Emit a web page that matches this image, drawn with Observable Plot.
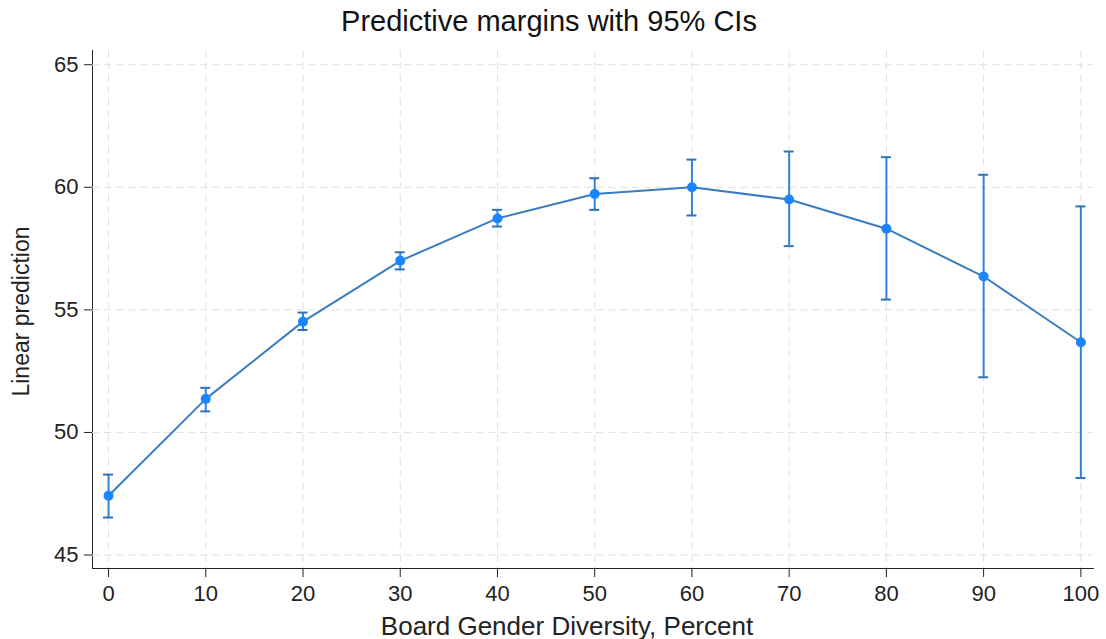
<!DOCTYPE html>
<html><head><meta charset="utf-8">
<script src="https://cdn.jsdelivr.net/npm/d3@7"></script>
<script src="https://cdn.jsdelivr.net/npm/@observablehq/plot@0.6"></script>
<style>
body{margin:0;background:#fff;font-family:"Liberation Sans",Arial,sans-serif;}
#title{height:46px;box-sizing:border-box;padding-top:6px;text-align:center;font-size:29px;line-height:30px;color:#111;padding-right:8px;}
</style></head><body>
<div id="title">Predictive margins with 95% CIs</div>
<div id="chart"></div>
<script>
const diversity = [0, 10, 20, 30, 40, 50, 60, 70, 80, 90, 100];
const margin    = [47.42, 51.37, 54.52, 57.00, 58.73, 59.73, 60.00, 59.50, 58.31, 56.36, 53.68];
const ciLow     = [46.53, 50.86, 54.18, 56.65, 58.40, 59.08, 58.85, 57.60, 55.42, 52.25, 48.14];
const ciHigh    = [48.28, 51.82, 54.89, 57.35, 59.08, 60.37, 61.13, 61.46, 61.23, 60.51, 59.22];
const xTicks = [0, 10, 20, 30, 40, 50, 60, 70, 80, 90, 100];
const yTicks = [45, 50, 55, 60, 65];
const xLabel = "Board Gender Diversity, Percent";
const yLabel = "Linear prediction";

const rows = diversity.map((x, i) => ({x, m: margin[i], lo: ciLow[i], hi: ciHigh[i]}));
const blue = "#1a85ff";
const lineBlue = "#3a7cc0";
const barBlue = "#2d84e0";

const chart = Plot.plot({
  width: 1106, height: 593,
  marginTop: 4, marginBottom: 71, marginLeft: 92, marginRight: 13,
  style: {fontFamily: "'Liberation Sans', Arial, sans-serif", fontSize: "22px", color: "#222", background: "#fff", overflow: "visible"},
  x: {domain: [-1.65, 101.3], ticks: xTicks, tickSize: 9, tickPadding: 8, label: null, line: true},
  y: {domain: [44.45, 65.58], ticks: yTicks, tickSize: 8, tickPadding: 6, label: null, line: true},
  marks: [
    Plot.gridX(xTicks, {stroke: "#e0e0e0", strokeOpacity: 1, strokeDasharray: "7,5"}),
    Plot.gridY(yTicks, {stroke: "#e0e0e0", strokeOpacity: 1, strokeDasharray: "7,5"}),
    Plot.ruleX(rows, {x: "x", y1: "lo", y2: "hi", stroke: barBlue, strokeWidth: 2}),
    Plot.ruleY(rows, {y: "lo", x1: "x", x2: "x", insetLeft: -5, insetRight: -5, stroke: "#2f72b8", strokeWidth: 2}),
    Plot.ruleY(rows, {y: "hi", x1: "x", x2: "x", insetLeft: -5, insetRight: -5, stroke: "#2f72b8", strokeWidth: 2}),
    Plot.line(rows, {x: "x", y: "m", stroke: lineBlue, strokeWidth: 2}),
    Plot.dot(rows, {x: "x", y: "m", r: 5, fill: blue, stroke: "none"}),
    Plot.text([xLabel], {text: d => d, frameAnchor: "bottom", lineAnchor: "bottom", dy: 66, dx: -26, fontSize: 26, fill: "#222"}),
    Plot.text([yLabel], {text: d => d, frameAnchor: "left", lineAnchor: "top", textAnchor: "middle", rotate: -90, dx: -80, dy: 2, fontSize: 23, fill: "#222"})
  ]
});
document.getElementById("chart").appendChild(chart);
</script>
</body></html>
